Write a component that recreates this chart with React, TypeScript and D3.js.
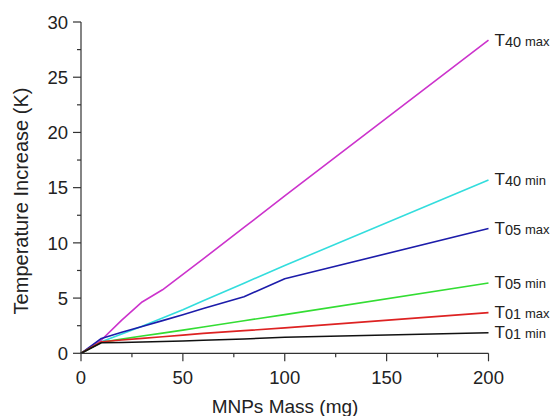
import React from "react";
import * as d3 from "d3";

const mass = [0, 10, 20, 30, 40, 50, 60, 80, 100, 200];

const t40max = [0, 1.2, 3.0, 4.65, 5.75, 7.15, 8.55, 11.4, 14.25, 28.35];
const t40min = [0, 1.05, 1.75, 2.45, 3.2, 3.95, 4.75, 6.35, 7.95, 15.7];
const t05max = [0, 1.35, 1.9, 2.42, 2.96, 3.5, 4.05, 5.13, 6.75, 11.3];
const t05min = [0, 1.0, 1.28, 1.56, 1.83, 2.1, 2.38, 2.95, 3.5, 6.37];
const t01max = [0, 1.05, 1.2, 1.35, 1.5, 1.65, 1.8, 2.05, 2.3, 3.68];
const t01min = [0, 0.95, 0.98, 1.02, 1.07, 1.12, 1.18, 1.3, 1.45, 1.86];

const seriesNames = [
  { sub: "40", tag: "max" },
  { sub: "40", tag: "min" },
  { sub: "05", tag: "max" },
  { sub: "05", tag: "min" },
  { sub: "01", tag: "max" },
  { sub: "01", tag: "min" },
];
const seriesValues = [t40max, t40min, t05max, t05min, t01max, t01min];
const colors = ["#cc33cc", "#33dddd", "#1c1caa", "#33dd33", "#dd2222", "#111111"];

const xTicks = [0, 50, 100, 150, 200];
const yTicks = [0, 5, 10, 15, 20, 25, 30];

const W = 551;
const H = 416;
const left = 81;
const right = 488.5;
const top = 22;
const bottom = 353.3;
const font = "Liberation Sans, Arial, sans-serif";

export default function App() {
  const x = d3.scaleLinear().domain([0, 200]).range([left, right]);
  const y = d3.scaleLinear().domain([0, 30]).range([bottom, top]);
  const line = d3
    .line<[number, number]>()
    .x((d) => x(d[0]))
    .y((d) => y(d[1]));

  const xMinor = d3.range(0, 201, 25);
  const yMinor = d3.range(0, 30.1, 2.5);

  return (
    <svg
      width={W}
      height={H}
      style={{ position: "absolute", left: 0, top: 0, background: "#fff" }}
      fontFamily={font}
    >
      {seriesValues.map((vals, i) => (
        <path
          key={i}
          d={line(mass.map((m, j) => [m, vals[j]] as [number, number])) || ""}
          fill="none"
          stroke={colors[i]}
          strokeWidth={1.6}
          strokeLinejoin="round"
        />
      ))}

      {seriesValues.map((vals, i) => (
        <text
          key={"l" + i}
          x={x(200) + 6}
          y={y(vals[vals.length - 1]) + 5.5}
          fill="#222"
        >
          <tspan fontSize={17}>T</tspan>
          <tspan fontSize={14.5} dy={1}>{seriesNames[i].sub}</tspan>
          <tspan fontSize={13} dx={4} dy={-1}>{seriesNames[i].tag}</tspan>
        </text>
      ))}

      <g stroke="#333" strokeWidth={1.2}>
        <line x1={left} x2={left} y1={top} y2={bottom} />
        <line x1={left} x2={right} y1={bottom} y2={bottom} />
        {xMinor.map((t) => (
          <line
            key={"xm" + t}
            x1={x(t)}
            x2={x(t)}
            y1={bottom}
            y2={bottom + (t % 50 === 0 ? 8 : 4)}
          />
        ))}
        {yMinor.map((t) => (
          <line
            key={"ym" + t}
            y1={y(t)}
            y2={y(t)}
            x1={left}
            x2={left - (t % 5 === 0 ? 8 : 4)}
          />
        ))}
      </g>

      {xTicks.map((t) => (
        <text
          key={"xt" + t}
          x={x(t)}
          y={383.5}
          textAnchor="middle"
          fontSize={18.5}
          fill="#222"
        >
          {t}
        </text>
      ))}
      {yTicks.map((t) => (
        <text
          key={"yt" + t}
          x={left - 13}
          y={y(t) + 6.7}
          textAnchor="end"
          fontSize={18.5}
          fill="#222"
        >
          {t}
        </text>
      ))}

      <text
        x={285}
        y={413}
        textAnchor="middle"
        fontSize={19}
        fill="#222"
      >
        MNPs Mass (mg)
      </text>
      <text
        transform={`translate(28, 201) rotate(-90)`}
        textAnchor="middle"
        fontSize={20}
        fill="#222"
      >
        Temperature Increase (K)
      </text>
    </svg>
  );
}
